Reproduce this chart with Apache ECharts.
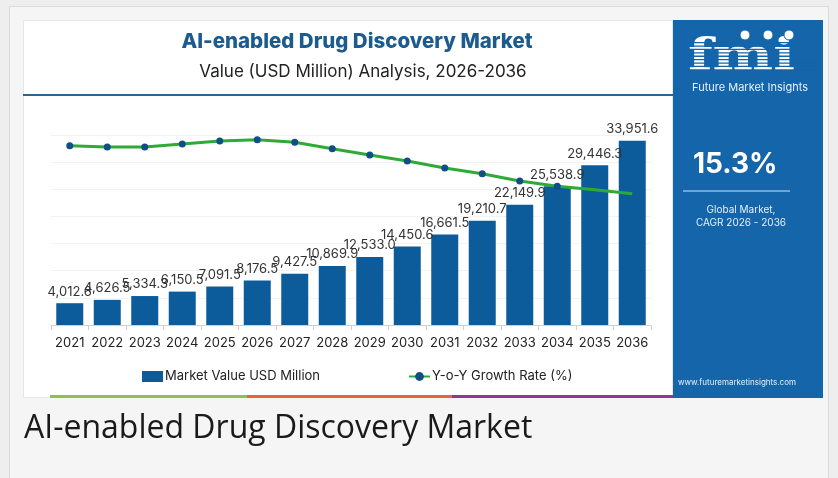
<!DOCTYPE html>
<html>
<head>
<meta charset="utf-8">
<script src="https://cdn.jsdelivr.net/npm/echarts@6/dist/echarts.min.js"></script>
<style>
  html, body { margin: 0; padding: 0; width: 838px; height: 478px; overflow: hidden; background: #eeeeee; }
  .card { position: absolute; left: 9px; top: 6px; width: 818px; height: 480px; background: #f5f5f5; border-left: 1px solid #dcdcdc; border-top: 1px solid #dcdcdc; border-right: 1px solid #dcdcdc; }
  .white { position: absolute; left: 23px; top: 20px; width: 650px; height: 378px; background: #ffffff; border: 1px solid #e6e6e6; box-sizing: border-box; }
  .panel { position: absolute; left: 673px; top: 20px; width: 150px; height: 378px; background: #1565aa; }
  .bar { position: absolute; top: 395px; height: 3px; }
  #chart { position: absolute; left: 0; top: 0; width: 838px; height: 478px; }
</style>
</head>
<body>
<div class="card"></div>
<div class="white"></div>
<div class="panel"></div>
<div class="bar" style="left:50px;width:197px;background:#8cc152;"></div>
<div class="bar" style="left:247px;width:205px;background:#e2673e;"></div>
<div class="bar" style="left:452px;width:221px;background:#8b3a8f;"></div>
<div id="chart"></div>
<script>
const years = ['2021','2022','2023','2024','2025','2026','2027','2028','2029','2030','2031','2032','2033','2034','2035','2036'];
const marketValue = [4012.6, 4626.5, 5334.3, 6150.5, 7091.5, 8176.5, 9427.5, 10869.9, 12533.0, 14450.6, 16661.5, 19210.7, 22149.9, 25538.9, 29446.3, 33951.6];
const growthRate = [18.87, 18.74, 18.74, 19.05, 19.37, 19.51, 19.23, 18.56, 17.89, 17.26, 16.53, 15.93, 15.16, 14.6, 14.24, 13.82];
const hiddenMarkerYears = ['2035', '2036'];
const titleText = 'AI-enabled Drug Discovery Market';
const subtitleText = 'Value (USD Million) Analysis, 2026-2036';
const cagrText = '15.3%';
const captionText = 'AI-enabled Drug Discovery Market';

const chart = echarts.init(document.getElementById('chart'), null, { renderer: 'canvas' });
const FONT = 'Inter, "Noto Sans", sans-serif';
const panelBlue = '#1565aa';

const stripes = [];
for (let y = 42; y < 76; y += 3.4) {
  stripes.push({ type: 'rect', shape: { x: 686, y: y, width: 130, height: 1.3 }, style: { fill: panelBlue }, z: 5 });
}

const lineData = growthRate.map((v, i) => hiddenMarkerYears.includes(years[i]) ? { value: v, symbol: 'none' } : v);

chart.setOption({
  animation: false,
  title: [
    { text: titleText, left: 352, textAlign: 'center', top: 26,
      textStyle: { fontFamily: FONT, fontWeight: 800, fontSize: 20.5, color: '#1b5b8e' } },
    { text: subtitleText, left: 358, textAlign: 'center', top: 58,
      textStyle: { fontFamily: FONT, fontWeight: 400, fontSize: 17, color: '#222' } }
  ],
  grid: { left: 51, right: 187, top: 135, bottom: 153 },
  legend: {
    left: 137, top: 365, itemWidth: 21, itemHeight: 11, itemGap: 88,
    textStyle: { fontFamily: FONT, fontSize: 13, color: '#222', padding: [0, 0, 0, -3] },
    data: [
      { name: 'Market Value USD Million', icon: 'rect' },
      { name: 'Y-o-Y Growth Rate (%)' }
    ]
  },
  xAxis: {
    type: 'category', data: years, boundaryGap: true,
    axisLine: { lineStyle: { color: '#d0d0d0' } },
    axisTick: { show: true, length: 5, lineStyle: { color: '#d0d0d0' } },
    axisLabel: { interval: 0, margin: 12, fontFamily: FONT, fontSize: 13, color: '#222' }
  },
  yAxis: [
    { type: 'value', min: 0, max: 35000, interval: 5000,
      axisLabel: { show: false }, axisLine: { show: false }, axisTick: { show: false },
      splitLine: { lineStyle: { color: '#f3f3f3' } } },
    { type: 'value', min: 0, max: 20, interval: 5,
      axisLabel: { show: false }, axisLine: { show: false }, axisTick: { show: false },
      splitLine: { show: false } }
  ],
  series: [
    { name: 'Market Value USD Million', type: 'bar', data: marketValue, barWidth: 27,
      itemStyle: { color: '#0c5b9a' },
      label: { show: true, position: 'top', distance: 5, fontFamily: FONT, fontSize: 13, color: '#333',
        formatter: p => p.value.toLocaleString('en-US', { minimumFractionDigits: 1, maximumFractionDigits: 1 }) } },
    { name: 'Y-o-Y Growth Rate (%)', type: 'line', yAxisIndex: 1, data: lineData,
      symbol: 'circle', symbolSize: 7, z: 5,
      lineStyle: { color: '#2eab36', width: 3 },
      itemStyle: { color: '#0f4f86' } }
  ],
  graphic: [
    { type: 'text', left: 688, top: 37, z: 4, scaleX: 1.3,
      style: { text: 'fmi', fill: '#ffffff', font: 'bold 44px "DejaVu Serif", serif' } },
    ...stripes,
    { type: 'circle', shape: { cx: 745, cy: 35, r: 5 }, style: { fill: '#ffffff', stroke: panelBlue, lineWidth: 1 }, z: 6 },
    { type: 'circle', shape: { cx: 768, cy: 35, r: 5 }, style: { fill: '#ffffff', stroke: panelBlue, lineWidth: 1 }, z: 6 },
    { type: 'circle', shape: { cx: 789, cy: 35, r: 5 }, style: { fill: '#ffffff', stroke: panelBlue, lineWidth: 1 }, z: 6 },
    { type: 'text', x: 750, y: 82, z: 6,
      style: { text: 'Future Market Insights', fill: '#e6f0fa', font: '11px ' + FONT, textAlign: 'center' } },
    { type: 'text', left: 693, top: 151, z: 6,
      style: { text: cagrText, fill: '#ffffff', font: 'bold 28px ' + FONT } },
    { type: 'line', shape: { x1: 683, y1: 191, x2: 790, y2: 191 }, style: { stroke: '#8dbbe4', lineWidth: 1.5 }, z: 6 },
    { type: 'text', x: 741, y: 205, z: 6,
      style: { text: 'Global Market,', fill: '#e6f0fa', font: '10px ' + FONT, textAlign: 'center' } },
    { type: 'text', x: 741, y: 218, z: 6,
      style: { text: 'CAGR 2026 - 2036', fill: '#e6f0fa', font: '10px ' + FONT, textAlign: 'center' } },
    { type: 'text', x: 678, y: 379, z: 6,
      style: { text: 'www.futuremarketinsights.com', fill: '#e6f0fa', font: '8px ' + FONT } },
    { type: 'line', shape: { x1: 23, y1: 95, x2: 673, y2: 95 }, style: { stroke: '#2a6496', lineWidth: 2 }, z: 6 },
    { type: 'text', x: 24, y: 413, z: 6,
      style: { text: captionText, fill: '#1a1a1a', font: '32px "Open Sans", sans-serif' } }
  ]
});
</script>
</body>
</html>
